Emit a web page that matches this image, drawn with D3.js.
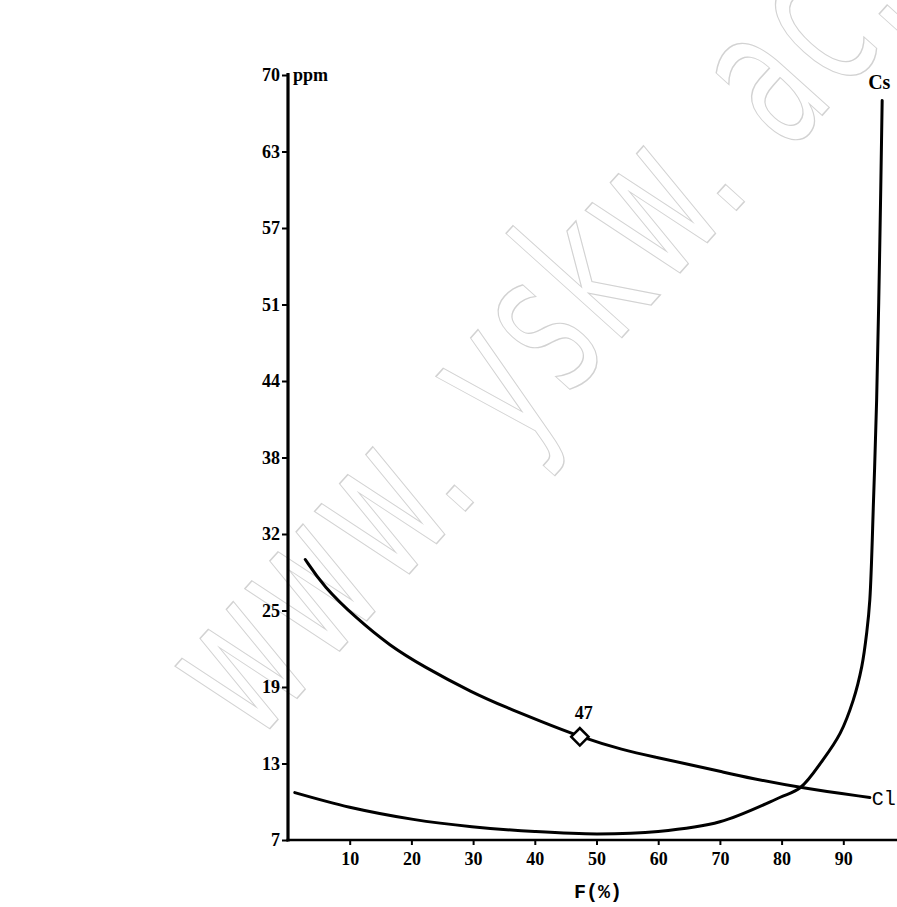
<!DOCTYPE html>
<html>
<head>
<meta charset="utf-8">
<script src="https://cdn.jsdelivr.net/npm/d3@7"></script>
<style>
  html, body { margin: 0; padding: 0; background: #fff; }
  svg { display: block; }
</style>
</head>
<body>
<svg id="chart" width="897" height="907"></svg>
<script>
// tick labels as printed (ticks are evenly spaced, 6.3 ppm apart)
const yTickLabels = ["7", "13", "19", "25", "32", "38", "44", "51", "57", "63", "70"]
const xTicks = [10, 20, 30, 40, 50, 60, 70, 80, 90]

// Cl curve, F (%) vs ppm
const clF   = [2.8, 5.7, 11.2, 16.5, 21.9, 30.0, 35.5, 40.8, 47.3, 54.3, 59.8, 65.2, 70.5, 74.9, 83.0, 94.3]
const clPpm = [30.1, 27.9, 25.2, 23.0, 21.3, 19.1, 17.9, 16.8, 15.5, 14.4, 13.8, 13.2, 12.6, 12.1, 11.3, 10.5]

// Cs curve
const csF   = [1.1, 10.0, 20.3, 29.8, 40.0, 50.1, 60.0, 70.0, 79.7, 83.0, 86.7, 89.5, 91.6, 93.0, 93.8, 94.3, 94.9, 95.4, 95.9, 96.3]
const csPpm = [10.9, 9.7, 8.7, 8.1, 7.7, 7.5, 7.7, 8.5, 10.5, 11.3, 13.6, 15.8, 18.5, 21.3, 24.1, 26.8, 35.0, 43.2, 55.6, 67.9]

const marker = { f: 47.3, ppm: 15.5, label: "47" }

const clData = clF.map((f, i) => ({ x: f, y: clPpm[i] }))
const csData = csF.map((f, i) => ({ x: f, y: csPpm[i] }))

const svg = d3.select("#chart")
const width = 897

const xScale = d3.scaleLinear().domain([0, 100]).range([288, 905])
const yScale = d3.scaleLinear().domain([7, 70]).range([840, 75])
const yTicks = yTickLabels.map((d, i) => 7 + 6.3 * i)

const numFont = "'Liberation Serif', 'DejaVu Serif', serif"

// watermark
svg.append("text")
  .attr("transform", "translate(255,745) rotate(-48) scale(0.58,1)")
  .attr("font-family", "'DejaVu Sans', sans-serif")
  .attr("font-size", 205)
  .attr("letter-spacing", 12)
  .attr("fill", "none")
  .attr("stroke", "#d2d2d2")
  .attr("stroke-width", 1.5)
  .text("www. yskw. ac.")

// y axis
const yAxis = g =>
  g
    .attr("transform", `translate(${xScale(0)},0)`)
    .call(d3.axisLeft(yScale).tickValues(yTicks).tickSize(6).tickFormat((d, i) => yTickLabels[i]))
    .call(g => g.select(".domain").remove())
    .call(g => g.selectAll(".tick line").attr("stroke", "#000").attr("stroke-width", 2))
    .call(g => g.selectAll(".tick text")
      .attr("x", -8)
      .attr("font-family", numFont)
      .attr("font-weight", "bold")
      .attr("font-size", 18)
      .attr("fill", "#000"))

const xAxis = g =>
  g
    .attr("transform", `translate(0,${yScale(7)})`)
    .call(d3.axisBottom(xScale).tickValues(xTicks).tickSize(5))
    .call(g => g.select(".domain").remove())
    .call(g => g.selectAll(".tick line").attr("stroke", "#000").attr("stroke-width", 2))
    .call(g => g.selectAll(".tick text")
      .attr("y", 12)
      .attr("font-family", numFont)
      .attr("font-weight", "bold")
      .attr("font-size", 18)
      .attr("fill", "#000"))

svg.append("g").call(yAxis)
svg.append("g").call(xAxis)

// axis lines
svg.append("line")
  .attr("x1", xScale(0)).attr("x2", xScale(0))
  .attr("y1", yScale(7) + 1.5).attr("y2", yScale(70) - 2)
  .attr("stroke", "#000").attr("stroke-width", 3.2)
svg.append("line")
  .attr("x1", xScale(0) - 1.5).attr("x2", width)
  .attr("y1", yScale(7)).attr("y2", yScale(7))
  .attr("stroke", "#000").attr("stroke-width", 2.6)

// unit + axis title
svg.append("text")
  .attr("x", xScale(0) + 5).attr("y", yScale(70) + 6)
  .attr("font-family", numFont).attr("font-weight", "bold").attr("font-size", 18)
  .text("ppm")

svg.append("text")
  .attr("x", 598).attr("y", 898)
  .attr("text-anchor", "middle")
  .attr("font-family", "'Liberation Mono', 'DejaVu Sans Mono', monospace")
  .attr("font-weight", "bold").attr("font-size", 20)
  .text("F(%)")

// curves
const clLine = d3.line()
  .x(d => xScale(d.x))
  .y(d => yScale(d.y))
  .curve(d3.curveBasis)

const csLine = d3.line()
  .x(d => xScale(d.x))
  .y(d => yScale(d.y))
  .curve(d3.curveCatmullRom.alpha(0.5))

svg.append("path")
  .datum(clData)
  .attr("fill", "none")
  .attr("stroke", "#000")
  .attr("stroke-width", 3)
  .attr("stroke-linecap", "round")
  .attr("d", clLine)

svg.append("path")
  .datum(csData)
  .attr("fill", "none")
  .attr("stroke", "#000")
  .attr("stroke-width", 3)
  .attr("stroke-linecap", "round")
  .attr("d", csLine)

// marker at F = 47
svg.append("path")
  .attr("transform", `translate(${xScale(marker.f)},${yScale(marker.ppm)}) rotate(45)`)
  .attr("d", d3.symbol(d3.symbolSquare, 150)())
  .attr("fill", "#fff")
  .attr("stroke", "#000")
  .attr("stroke-width", 2.5)

svg.append("text")
  .attr("x", xScale(marker.f) + 4).attr("y", yScale(marker.ppm) - 18)
  .attr("text-anchor", "middle")
  .attr("font-family", numFont).attr("font-weight", "bold").attr("font-size", 18)
  .text(marker.label)

// series labels
svg.append("text")
  .attr("x", xScale(clF[clF.length - 1]) + 2).attr("y", yScale(clPpm[clPpm.length - 1]) + 7)
  .attr("font-family", "'Liberation Mono', monospace")
  .attr("font-size", 20)
  .text("Cl")

svg.append("text")
  .attr("x", xScale(csF[csF.length - 1]) - 14).attr("y", yScale(csPpm[csPpm.length - 1]) - 12)
  .attr("font-family", numFont)
  .attr("font-weight", "bold")
  .attr("font-size", 20)
  .text("Cs")
</script>
</body>
</html>
